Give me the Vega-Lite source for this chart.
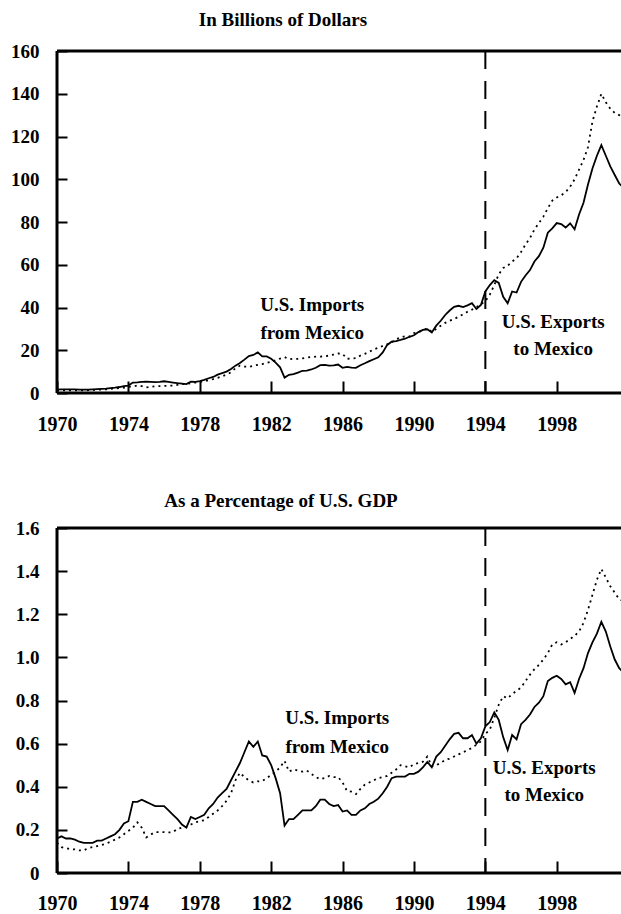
{
  "$schema": "https://vega.github.io/schema/vega-lite/v6.json",
  "background": "white",
  "padding": {"left": 10, "top": 11, "right": 0, "bottom": 0},
  "spacing": 58,
  "config": {
    "font": "Liberation Serif",
    "view": {"stroke": null},
    "axis": {"labelFont": "Liberation Serif", "labelFontWeight": "bold", "labelFontSize": 19, "labelColor": "black", "domain": false, "ticks": true, "tickColor": "black", "tickOpacity": 1, "tickWidth": 2, "grid": false, "title": null, "zindex": 1},
    "axisX": {"format": "d", "labelFontSize": 20, "tickSize": 12, "offset": -12, "labelFlush": false, "labelOverlap": false},
    "axisY": {"tickSize": 10, "offset": -10, "labelPadding": 18, "minExtent": 50, "maxExtent": 50},
    "title": {"font": "Liberation Serif", "fontWeight": "bold", "fontSize": 19, "color": "black"}
  },
  "datasets": {
    "dollars": [
      {"t":1970,"exp":1.6,"imp":1.4},{"t":1970.25,"exp":1.7,"imp":1.2},{"t":1970.5,"exp":1.7,"imp":1.2},{"t":1970.75,"exp":1.7,"imp":1.2},
      {"t":1971,"exp":1.7,"imp":1.2},{"t":1971.25,"exp":1.6,"imp":1.2},{"t":1971.5,"exp":1.6,"imp":1.2},{"t":1971.75,"exp":1.6,"imp":1.3},
      {"t":1972,"exp":1.7,"imp":1.4},{"t":1972.25,"exp":1.8,"imp":1.5},{"t":1972.5,"exp":1.9,"imp":1.6},{"t":1972.75,"exp":2.0,"imp":1.7},
      {"t":1973,"exp":2.3,"imp":1.9},{"t":1973.25,"exp":2.5,"imp":2.1},{"t":1973.5,"exp":2.8,"imp":2.3},{"t":1973.75,"exp":3.2,"imp":2.5},
      {"t":1974,"exp":3.5,"imp":2.8},{"t":1974.25,"exp":4.9,"imp":3.1},{"t":1974.5,"exp":5.0,"imp":3.5},{"t":1974.75,"exp":5.2,"imp":3.2},
      {"t":1975,"exp":5.3,"imp":2.6},{"t":1975.25,"exp":5.2,"imp":2.9},{"t":1975.5,"exp":5.1,"imp":3.1},{"t":1975.75,"exp":5.2,"imp":3.2},
      {"t":1976,"exp":5.5,"imp":3.3},{"t":1976.25,"exp":5.2,"imp":3.4},{"t":1976.5,"exp":4.9,"imp":3.5},{"t":1976.75,"exp":4.6,"imp":3.8},
      {"t":1977,"exp":4.4,"imp":4.1},{"t":1977.25,"exp":4.2,"imp":4.3},{"t":1977.5,"exp":5.3,"imp":4.6},{"t":1977.75,"exp":5.2,"imp":4.9},
      {"t":1978,"exp":5.6,"imp":5.2},{"t":1978.25,"exp":6.1,"imp":5.5},{"t":1978.5,"exp":6.9,"imp":6.0},{"t":1978.75,"exp":7.5,"imp":6.5},
      {"t":1979,"exp":8.6,"imp":7.1},{"t":1979.25,"exp":9.3,"imp":7.8},{"t":1979.5,"exp":10.0,"imp":8.6},{"t":1979.75,"exp":11.2,"imp":9.7},
      {"t":1980,"exp":12.8,"imp":11.6},{"t":1980.25,"exp":14.0,"imp":12.8},{"t":1980.5,"exp":15.6,"imp":12.4},{"t":1980.75,"exp":17.3,"imp":12.2},
      {"t":1981,"exp":17.8,"imp":12.8},{"t":1981.25,"exp":19.0,"imp":13.2},{"t":1981.5,"exp":17.1,"imp":13.5},{"t":1981.75,"exp":17.1,"imp":14.1},
      {"t":1982,"exp":16.0,"imp":14.6},{"t":1982.25,"exp":14.2,"imp":15.3},{"t":1982.5,"exp":12.0,"imp":16.1},{"t":1982.75,"exp":7.2,"imp":16.8},
      {"t":1983,"exp":8.5,"imp":15.8},{"t":1983.25,"exp":8.8,"imp":16.0},{"t":1983.5,"exp":9.5,"imp":16.0},{"t":1983.75,"exp":10.4,"imp":16.2},
      {"t":1984,"exp":10.5,"imp":16.6},{"t":1984.25,"exp":11.0,"imp":16.8},{"t":1984.5,"exp":11.8,"imp":17.0},{"t":1984.75,"exp":13.0,"imp":17.0},
      {"t":1985,"exp":13.2,"imp":17.2},{"t":1985.25,"exp":12.8,"imp":17.5},{"t":1985.5,"exp":12.9,"imp":18.0},{"t":1985.75,"exp":13.3,"imp":18.5},
      {"t":1986,"exp":11.8,"imp":18.3},{"t":1986.25,"exp":12.2,"imp":16.0},{"t":1986.5,"exp":11.9,"imp":16.2},{"t":1986.75,"exp":11.8,"imp":16.3},
      {"t":1987,"exp":13.0,"imp":17.5},{"t":1987.25,"exp":13.9,"imp":18.3},{"t":1987.5,"exp":14.9,"imp":19.3},{"t":1987.75,"exp":15.8,"imp":20.4},
      {"t":1988,"exp":16.7,"imp":21.2},{"t":1988.25,"exp":19.0,"imp":22.0},{"t":1988.5,"exp":22.5,"imp":22.8},{"t":1988.75,"exp":24.0,"imp":23.6},
      {"t":1989,"exp":24.3,"imp":25.1},{"t":1989.25,"exp":24.8,"imp":26.0},{"t":1989.5,"exp":25.4,"imp":26.6},{"t":1989.75,"exp":26.3,"imp":26.4},
      {"t":1990,"exp":27.0,"imp":28.0},{"t":1990.25,"exp":28.5,"imp":28.6},{"t":1990.5,"exp":29.5,"imp":29.2},{"t":1990.75,"exp":29.8,"imp":30.3},
      {"t":1991,"exp":28.3,"imp":28.6},{"t":1991.25,"exp":31.5,"imp":30.0},{"t":1991.5,"exp":33.8,"imp":31.5},{"t":1991.75,"exp":36.5,"imp":32.8},
      {"t":1992,"exp":38.6,"imp":33.8},{"t":1992.25,"exp":40.3,"imp":34.6},{"t":1992.5,"exp":40.8,"imp":35.7},{"t":1992.75,"exp":40.2,"imp":36.8},
      {"t":1993,"exp":41.0,"imp":38.0},{"t":1993.25,"exp":42.0,"imp":39.0},{"t":1993.5,"exp":39.3,"imp":40.2},{"t":1993.75,"exp":41.2,"imp":41.5},
      {"t":1994,"exp":47.5,"imp":43.0},{"t":1994.25,"exp":50.5,"imp":46.0},{"t":1994.5,"exp":52.8,"imp":50.5},{"t":1994.75,"exp":51.5,"imp":55.5},
      {"t":1995,"exp":45.0,"imp":58.5},{"t":1995.25,"exp":42.0,"imp":59.5},{"t":1995.5,"exp":47.5,"imp":61.5},{"t":1995.75,"exp":47.0,"imp":63.0},
      {"t":1996,"exp":52.0,"imp":66.0},{"t":1996.25,"exp":55.0,"imp":69.5},{"t":1996.5,"exp":57.5,"imp":72.5},{"t":1996.75,"exp":61.5,"imp":76.5},
      {"t":1997,"exp":64.0,"imp":79.5},{"t":1997.25,"exp":68.0,"imp":82.5},{"t":1997.5,"exp":75.0,"imp":86.5},{"t":1997.75,"exp":77.0,"imp":90.0},
      {"t":1998,"exp":79.5,"imp":91.5},{"t":1998.25,"exp":79.0,"imp":92.5},{"t":1998.5,"exp":77.4,"imp":94.0},{"t":1998.75,"exp":79.4,"imp":96.5},
      {"t":1999,"exp":76.6,"imp":100.0},{"t":1999.25,"exp":83.5,"imp":104.5},{"t":1999.5,"exp":89.0,"imp":109.0},{"t":1999.75,"exp":97.5,"imp":115.0},
      {"t":2000,"exp":105.0,"imp":127.0},{"t":2000.25,"exp":111.0,"imp":134.0},{"t":2000.5,"exp":116.0,"imp":140.0},{"t":2000.75,"exp":111.0,"imp":136.0},
      {"t":2001,"exp":106.0,"imp":133.0},{"t":2001.25,"exp":102.0,"imp":131.0},{"t":2001.5,"exp":98.0,"imp":130.0},{"t":2001.75,"exp":96.0,"imp":129.0}
    ],
    "gdp": [
      {"t":1970,"exp":0.16,"imp":0.14},{"t":1970.25,"exp":0.17,"imp":0.12},{"t":1970.5,"exp":0.16,"imp":0.115},{"t":1970.75,"exp":0.16,"imp":0.11},
      {"t":1971,"exp":0.155,"imp":0.11},{"t":1971.25,"exp":0.145,"imp":0.105},{"t":1971.5,"exp":0.14,"imp":0.105},{"t":1971.75,"exp":0.14,"imp":0.115},
      {"t":1972,"exp":0.14,"imp":0.12},{"t":1972.25,"exp":0.15,"imp":0.125},{"t":1972.5,"exp":0.15,"imp":0.13},{"t":1972.75,"exp":0.16,"imp":0.136},
      {"t":1973,"exp":0.17,"imp":0.145},{"t":1973.25,"exp":0.18,"imp":0.155},{"t":1973.5,"exp":0.2,"imp":0.165},{"t":1973.75,"exp":0.23,"imp":0.18},
      {"t":1974,"exp":0.24,"imp":0.195},{"t":1974.25,"exp":0.33,"imp":0.21},{"t":1974.5,"exp":0.33,"imp":0.235},{"t":1974.75,"exp":0.34,"imp":0.21},
      {"t":1975,"exp":0.33,"imp":0.165},{"t":1975.25,"exp":0.32,"imp":0.178},{"t":1975.5,"exp":0.31,"imp":0.19},{"t":1975.75,"exp":0.31,"imp":0.19},
      {"t":1976,"exp":0.31,"imp":0.19},{"t":1976.25,"exp":0.29,"imp":0.188},{"t":1976.5,"exp":0.27,"imp":0.19},{"t":1976.75,"exp":0.25,"imp":0.205},
      {"t":1977,"exp":0.225,"imp":0.21},{"t":1977.25,"exp":0.21,"imp":0.215},{"t":1977.5,"exp":0.26,"imp":0.225},{"t":1977.75,"exp":0.25,"imp":0.235},
      {"t":1978,"exp":0.26,"imp":0.24},{"t":1978.25,"exp":0.27,"imp":0.245},{"t":1978.5,"exp":0.3,"imp":0.26},{"t":1978.75,"exp":0.32,"imp":0.275},
      {"t":1979,"exp":0.35,"imp":0.29},{"t":1979.25,"exp":0.37,"imp":0.31},{"t":1979.5,"exp":0.39,"imp":0.335},{"t":1979.75,"exp":0.43,"imp":0.37},
      {"t":1980,"exp":0.47,"imp":0.43},{"t":1980.25,"exp":0.51,"imp":0.465},{"t":1980.5,"exp":0.56,"imp":0.445},{"t":1980.75,"exp":0.61,"imp":0.43},
      {"t":1981,"exp":0.585,"imp":0.42},{"t":1981.25,"exp":0.61,"imp":0.425},{"t":1981.5,"exp":0.545,"imp":0.426},{"t":1981.75,"exp":0.54,"imp":0.44},
      {"t":1982,"exp":0.5,"imp":0.455},{"t":1982.25,"exp":0.44,"imp":0.47},{"t":1982.5,"exp":0.37,"imp":0.49},{"t":1982.75,"exp":0.22,"imp":0.52},
      {"t":1983,"exp":0.25,"imp":0.47},{"t":1983.25,"exp":0.25,"imp":0.48},{"t":1983.5,"exp":0.27,"imp":0.475},{"t":1983.75,"exp":0.29,"imp":0.47},
      {"t":1984,"exp":0.29,"imp":0.475},{"t":1984.25,"exp":0.29,"imp":0.46},{"t":1984.5,"exp":0.31,"imp":0.445},{"t":1984.75,"exp":0.34,"imp":0.435},
      {"t":1985,"exp":0.34,"imp":0.44},{"t":1985.25,"exp":0.32,"imp":0.45},{"t":1985.5,"exp":0.31,"imp":0.445},{"t":1985.75,"exp":0.315,"imp":0.445},
      {"t":1986,"exp":0.285,"imp":0.42},{"t":1986.25,"exp":0.29,"imp":0.38},{"t":1986.5,"exp":0.27,"imp":0.377},{"t":1986.75,"exp":0.27,"imp":0.366},
      {"t":1987,"exp":0.29,"imp":0.39},{"t":1987.25,"exp":0.3,"imp":0.41},{"t":1987.5,"exp":0.32,"imp":0.42},{"t":1987.75,"exp":0.33,"imp":0.43},
      {"t":1988,"exp":0.345,"imp":0.44},{"t":1988.25,"exp":0.37,"imp":0.445},{"t":1988.5,"exp":0.4,"imp":0.45},{"t":1988.75,"exp":0.44,"imp":0.465},
      {"t":1989,"exp":0.447,"imp":0.48},{"t":1989.25,"exp":0.447,"imp":0.5},{"t":1989.5,"exp":0.447,"imp":0.495},{"t":1989.75,"exp":0.46,"imp":0.49},
      {"t":1990,"exp":0.46,"imp":0.505},{"t":1990.25,"exp":0.47,"imp":0.51},{"t":1990.5,"exp":0.49,"imp":0.516},{"t":1990.75,"exp":0.515,"imp":0.54},
      {"t":1991,"exp":0.49,"imp":0.495},{"t":1991.25,"exp":0.54,"imp":0.5},{"t":1991.5,"exp":0.56,"imp":0.51},{"t":1991.75,"exp":0.59,"imp":0.525},
      {"t":1992,"exp":0.62,"imp":0.53},{"t":1992.25,"exp":0.645,"imp":0.54},{"t":1992.5,"exp":0.65,"imp":0.55},{"t":1992.75,"exp":0.625,"imp":0.56},
      {"t":1993,"exp":0.625,"imp":0.57},{"t":1993.25,"exp":0.64,"imp":0.58},{"t":1993.5,"exp":0.6,"imp":0.595},{"t":1993.75,"exp":0.625,"imp":0.61},
      {"t":1994,"exp":0.68,"imp":0.645},{"t":1994.25,"exp":0.7,"imp":0.665},{"t":1994.5,"exp":0.745,"imp":0.72},{"t":1994.75,"exp":0.71,"imp":0.78},
      {"t":1995,"exp":0.63,"imp":0.82},{"t":1995.25,"exp":0.57,"imp":0.81},{"t":1995.5,"exp":0.64,"imp":0.83},{"t":1995.75,"exp":0.62,"imp":0.845},
      {"t":1996,"exp":0.69,"imp":0.86},{"t":1996.25,"exp":0.71,"imp":0.89},{"t":1996.5,"exp":0.735,"imp":0.92},{"t":1996.75,"exp":0.77,"imp":0.945},
      {"t":1997,"exp":0.79,"imp":0.965},{"t":1997.25,"exp":0.82,"imp":0.99},{"t":1997.5,"exp":0.89,"imp":1.02},{"t":1997.75,"exp":0.905,"imp":1.06},
      {"t":1998,"exp":0.915,"imp":1.07},{"t":1998.25,"exp":0.9,"imp":1.06},{"t":1998.5,"exp":0.875,"imp":1.07},{"t":1998.75,"exp":0.885,"imp":1.085},
      {"t":1999,"exp":0.835,"imp":1.1},{"t":1999.25,"exp":0.9,"imp":1.12},{"t":1999.5,"exp":0.95,"imp":1.16},{"t":1999.75,"exp":1.02,"imp":1.22},
      {"t":2000,"exp":1.07,"imp":1.29},{"t":2000.25,"exp":1.11,"imp":1.36},{"t":2000.5,"exp":1.165,"imp":1.41},{"t":2000.75,"exp":1.12,"imp":1.37},
      {"t":2001,"exp":1.05,"imp":1.33},{"t":2001.25,"exp":0.99,"imp":1.3},{"t":2001.5,"exp":0.95,"imp":1.27},{"t":2001.75,"exp":0.93,"imp":1.26}
    ],
    "notes1": [
      {"t":1984.3,"v":41,"label":"U.S. Imports"},
      {"t":1984.3,"v":28,"label":"from Mexico"},
      {"t":1997.8,"v":33,"label":"U.S. Exports"},
      {"t":1997.8,"v":20.5,"label":"to Mexico"}
    ],
    "notes2": [
      {"t":1985.7,"v":0.72,"label":"U.S. Imports"},
      {"t":1985.7,"v":0.585,"label":"from Mexico"},
      {"t":1997.3,"v":0.487,"label":"U.S. Exports"},
      {"t":1997.3,"v":0.362,"label":"to Mexico"}
    ]
  },
  "vconcat": [
    {
      "width": 564,
      "height": 342,
      "title": {"text": "In Billions of Dollars", "frame": "group", "anchor": "middle", "dx": -56, "baseline": "alphabetic", "offset": -3},
      "layer": [
        {
          "data": {"name": "dollars"},
          "mark": {"type": "line", "color": "black", "strokeWidth": 1.8, "clip": true},
          "encoding": {
            "x": {"field": "t", "type": "quantitative", "scale": {"domain": [1970, 2001.6], "nice": false, "zero": false},
                  "axis": {"values": [1970,1971,1972,1973,1974,1975,1976,1977,1978,1979,1980,1981,1982,1983,1984,1985,1986,1987,1988,1989,1990,1991,1992,1993,1994,1995,1996,1997,1998,1999,2000,2001],
                           "labelExpr": "(datum.value - 1970) % 4 == 0 ? datum.label : ''", "labelPadding": 21}},
            "y": {"field": "exp", "type": "quantitative", "scale": {"domain": [0, 160], "nice": false},
                  "axis": {"values": [0,20,40,60,80,100,120,140,160]}}
          }
        },
        {
          "data": {"name": "dollars"},
          "mark": {"type": "line", "color": "black", "strokeWidth": 1.8, "strokeDash": [2, 4], "clip": true},
          "encoding": {
            "x": {"field": "t", "type": "quantitative"},
            "y": {"field": "imp", "type": "quantitative"}
          }
        },
        {
          "data": {"values": [{}]},
          "mark": {"type": "rule", "color": "black", "strokeWidth": 2, "strokeDash": [18, 12]},
          "encoding": {"x": {"datum": 1994}}
        },
        {
          "data": {"values": [{}]},
          "mark": {"type": "rule", "color": "black", "strokeWidth": 3},
          "encoding": {"y": {"datum": 160}}
        },
        {
          "data": {"values": [{}]},
          "mark": {"type": "rule", "color": "black", "strokeWidth": 3},
          "encoding": {"y": {"datum": 0}}
        },
        {
          "data": {"values": [{}]},
          "mark": {"type": "rule", "color": "black", "strokeWidth": 3},
          "encoding": {"x": {"datum": 1970}}
        },
        {
          "data": {"name": "notes1"},
          "mark": {"type": "text", "font": "Liberation Serif", "fontWeight": "bold", "fontSize": 19, "color": "black"},
          "encoding": {
            "x": {"field": "t", "type": "quantitative"},
            "y": {"field": "v", "type": "quantitative"},
            "text": {"field": "label"}
          }
        }
      ]
    },
    {
      "width": 564,
      "height": 345,
      "title": {"text": "As a Percentage of U.S. GDP", "frame": "group", "anchor": "middle", "dx": -58, "baseline": "alphabetic", "offset": -7},
      "layer": [
        {
          "data": {"name": "gdp"},
          "mark": {"type": "line", "color": "black", "strokeWidth": 1.8, "clip": true},
          "encoding": {
            "x": {"field": "t", "type": "quantitative", "scale": {"domain": [1970, 2001.6], "nice": false, "zero": false},
                  "axis": {"values": [1970,1971,1972,1973,1974,1975,1976,1977,1978,1979,1980,1981,1982,1983,1984,1985,1986,1987,1988,1989,1990,1991,1992,1993,1994,1995,1996,1997,1998,1999,2000,2001],
                           "labelExpr": "(datum.value - 1970) % 4 == 0 ? datum.label : ''", "labelPadding": 20}},
            "y": {"field": "exp", "type": "quantitative", "scale": {"domain": [0, 1.6], "nice": false},
                  "axis": {"values": [0,0.2,0.4,0.6,0.8,1.0,1.2,1.4,1.6], "labelExpr": "datum.value == 0 ? '0' : format(datum.value, '.1f')"}}
          }
        },
        {
          "data": {"name": "gdp"},
          "mark": {"type": "line", "color": "black", "strokeWidth": 1.8, "strokeDash": [2, 4], "clip": true},
          "encoding": {
            "x": {"field": "t", "type": "quantitative"},
            "y": {"field": "imp", "type": "quantitative"}
          }
        },
        {
          "data": {"values": [{}]},
          "mark": {"type": "rule", "color": "black", "strokeWidth": 2, "strokeDash": [18, 12]},
          "encoding": {"x": {"datum": 1994}}
        },
        {
          "data": {"values": [{}]},
          "mark": {"type": "rule", "color": "black", "strokeWidth": 3},
          "encoding": {"y": {"datum": 1.6}}
        },
        {
          "data": {"values": [{}]},
          "mark": {"type": "rule", "color": "black", "strokeWidth": 3},
          "encoding": {"y": {"datum": 0}}
        },
        {
          "data": {"values": [{}]},
          "mark": {"type": "rule", "color": "black", "strokeWidth": 3},
          "encoding": {"x": {"datum": 1970}}
        },
        {
          "data": {"name": "notes2"},
          "mark": {"type": "text", "font": "Liberation Serif", "fontWeight": "bold", "fontSize": 19, "color": "black"},
          "encoding": {
            "x": {"field": "t", "type": "quantitative"},
            "y": {"field": "v", "type": "quantitative"},
            "text": {"field": "label"}
          }
        }
      ]
    }
  ]
}
